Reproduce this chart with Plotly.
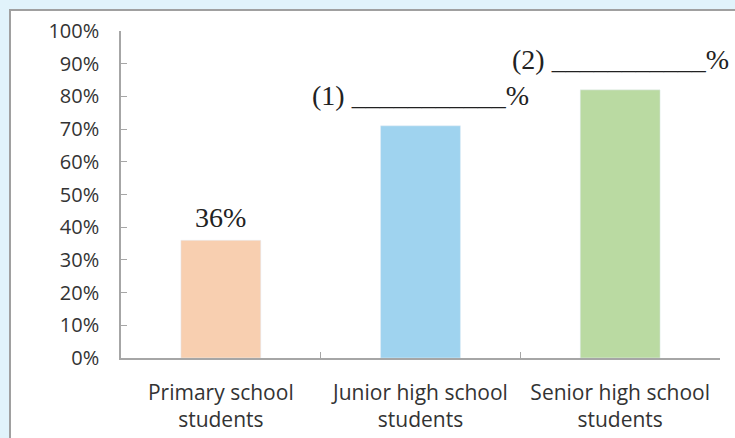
import plotly.graph_objects as go

categories = ["Primary school<br>students", "Junior high school<br>students", "Senior high school<br>students"]
values = [0.36, 0.71, 0.82]
bar_colors = ["#f8cfb0", "#9fd3ef", "#badaa2"]
bar_labels = ["36%", "(1) ___________%", "(2) ___________%"]
tick_vals = [i / 10 for i in range(11)]

# vertical offsets (px) of the labels above their bars
label_shifts = [5, 13, 13]

fig = go.Figure()
fig.add_trace(go.Bar(
    x=categories, y=values, marker_color=bar_colors, width=0.4,
    hoverinfo="skip",
))

for cat, val, lab, sh in zip(categories, values, bar_labels, label_shifts):
    fig.add_annotation(
        x=cat, y=val, text=lab, showarrow=False,
        xanchor="center", yanchor="bottom", yshift=sh,
        font=dict(family="Liberation Serif", size=28, color="#222222"),
    )

axis_color = "#a6a6a6"
frame_bg = "#e1f3fb"
frame_line = "#a0a0a0"
px_x = lambda p: (p - 121) / 599
px_y = lambda p: (358 - p) / 327
shapes = [
    dict(type="rect", xref="paper", yref="paper",
         x0=px_x(-5), x1=px_x(9), y0=px_y(445), y1=px_y(-5),
         fillcolor=frame_bg, line=dict(width=0), layer="below"),
    dict(type="rect", xref="paper", yref="paper",
         x0=px_x(-5), x1=px_x(740), y0=px_y(9), y1=px_y(-5),
         fillcolor=frame_bg, line=dict(width=0), layer="below"),
    dict(type="line", xref="paper", yref="paper",
         x0=px_x(10), x1=px_x(10), y0=px_y(445), y1=px_y(9),
         line=dict(color=frame_line, width=2), layer="below"),
    dict(type="line", xref="paper", yref="paper",
         x0=px_x(9), x1=px_x(740), y0=px_y(10), y1=px_y(10),
         line=dict(color=frame_line, width=2), layer="below"),
]

fig.update_layout(
    width=735, height=438,
    margin=dict(l=121, r=15, t=31, b=80),
    paper_bgcolor="white",
    plot_bgcolor="rgba(0,0,0,0)",
    showlegend=False,
    shapes=shapes,
)
fig.update_xaxes(
    type="category", range=[-0.5, 2.5], automargin=False,
    showline=True, linecolor=axis_color, linewidth=1.5,
    ticks="inside", tickson="boundaries", ticklen=6, tickcolor=axis_color,
    tickfont=dict(family="Open Sans", size=21, color="#333333"),
    ticklabelstandoff=15,
    showgrid=False,
)
fig.update_yaxes(
    range=[0, 1], tickvals=tick_vals, tickformat=".0%", automargin=False,
    showline=True, linecolor=axis_color, linewidth=1.5,
    ticks="inside", ticklen=6, tickcolor=axis_color,
    tickfont=dict(family="Open Sans", size=20, color="#333333"),
    ticklabelstandoff=16,
    showgrid=False, zeroline=False,
)
fig.write_html("out.html")
